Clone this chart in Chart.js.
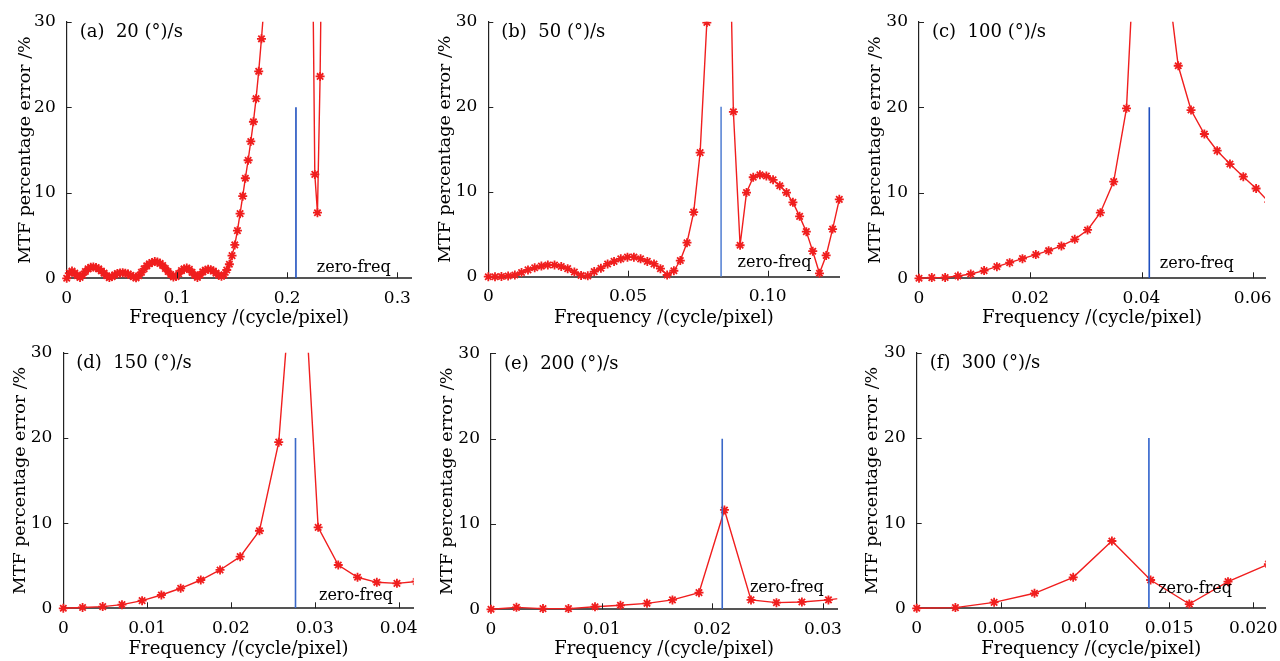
<!DOCTYPE html>
<html>
<head>
<meta charset="utf-8">
<title>MTF percentage error</title>
<script src="https://cdn.jsdelivr.net/npm/chart.js@4.4.1/dist/chart.umd.min.js"></script>
<style>
  body { margin: 0; background: #fff; width: 1280px; height: 661px; position: relative; overflow: hidden; }
  canvas { position: absolute; }
</style>
</head>
<body>
<canvas id="chartA"></canvas>
<canvas id="chartB"></canvas>
<canvas id="chartC"></canvas>
<canvas id="chartD"></canvas>
<canvas id="chartE"></canvas>
<canvas id="chartF"></canvas>
<script>
// values, frequency in cycle/pixel, error in %
// points above 30 are off the plot, they are only there so the lines leave through the top
const aFreq = [0, 0.0024, 0.0048, 0.0073, 0.0097, 0.0121, 0.0145, 0.0169, 0.0194, 0.0218,
  0.0242, 0.0266, 0.029, 0.0315, 0.0339, 0.0363, 0.0387, 0.0411, 0.0436, 0.046,
  0.0484, 0.0508, 0.0532, 0.0557, 0.0581, 0.0605, 0.0629, 0.0653, 0.0678, 0.0702,
  0.0726, 0.075, 0.0774, 0.0799, 0.0823, 0.0847, 0.0871, 0.0895, 0.092, 0.0944,
  0.0968, 0.0992, 0.1016, 0.1041, 0.1065, 0.1089, 0.1113, 0.1137, 0.1162, 0.1186,
  0.121, 0.1234, 0.1258, 0.1283, 0.1307, 0.1331, 0.1355, 0.1379, 0.1404, 0.1428,
  0.1452, 0.1476, 0.15, 0.1525, 0.1549, 0.1573, 0.1597, 0.1621, 0.1646, 0.167,
  0.1694, 0.1718, 0.1742, 0.1767, 0.1791, 0.1815, 0.1839, 0.1863, 0.1888, 0.1912,
  0.1936, 0.196, 0.1984, 0.2009, 0.2033, 0.2057, 0.2081, 0.2105, 0.213, 0.2154,
  0.2178, 0.2202, 0.2226, 0.2251, 0.2275, 0.2299, 0.2323]
const aErr = [0, 0.6, 0.85, 0.6, 0.3, 0.1, 0.4, 0.8, 1.1, 1.28,
  1.32, 1.25, 1.1, 0.85, 0.6, 0.3, 0.08, 0.2, 0.4, 0.55,
  0.63, 0.65, 0.6, 0.5, 0.35, 0.18, 0.05, 0.3, 0.7, 1.1,
  1.45, 1.7, 1.85, 1.95, 1.9, 1.75, 1.5, 1.15, 0.8, 0.45,
  0.15, 0.2, 0.55, 0.9, 1.1, 1.2, 1.05, 0.7, 0.35, 0.1,
  0.4, 0.75, 0.95, 1.05, 1.0, 0.85, 0.6, 0.35, 0.25, 0.4,
  0.97, 1.64, 2.65, 3.9, 5.57, 7.56, 9.6, 11.7, 13.8, 16.0,
  18.3, 21.0, 24.2, 28.0, 32, 40, 48, 58, 70, 85,
  105, 130, 170, 230, 320, 450, 600, 450, 320, 230,
  150, 90, 45, 12.15, 7.67, 23.6, 50]

const bFreq = [0, 0.0024, 0.0047, 0.0071, 0.0095, 0.0119, 0.0142, 0.0166, 0.019, 0.0213,
  0.0237, 0.0261, 0.0284, 0.0308, 0.0332, 0.0356, 0.0379, 0.0403, 0.0427, 0.045,
  0.0474, 0.0498, 0.0521, 0.0545, 0.0569, 0.0593, 0.0616, 0.064, 0.0664, 0.0687,
  0.0711, 0.0735, 0.0758, 0.0782, 0.0806, 0.083, 0.0853, 0.0877, 0.0901, 0.0924,
  0.0948, 0.0972, 0.0995, 0.1019, 0.1043, 0.1067, 0.109, 0.1114, 0.1138, 0.1161,
  0.1185, 0.1209, 0.1232, 0.1256]
const bErr = [0, 0, 0.02, 0.08, 0.2, 0.5, 0.8, 1.05, 1.25, 1.38,
  1.38, 1.2, 0.95, 0.55, 0.15, 0.1, 0.6, 1.0, 1.5, 1.8,
  2.1, 2.3, 2.3, 2.1, 1.8, 1.5, 0.95, 0.2, 0.7, 1.9,
  4.0, 7.6, 14.6, 29.9, 70, 200, 60, 19.4, 3.7, 9.9,
  11.7, 12.0, 11.85, 11.4, 10.7, 9.9, 8.75, 7.1, 5.3, 3.0,
  0.4, 2.5, 5.6, 9.1]

const cFreq = [0, 0.0023, 0.0047, 0.007, 0.0093, 0.0117, 0.014, 0.0163, 0.0186, 0.021,
  0.0233, 0.0256, 0.028, 0.0303, 0.0326, 0.035, 0.0373, 0.0396, 0.0419, 0.0443,
  0.0466, 0.0489, 0.0513, 0.0536, 0.0559, 0.0583, 0.0606, 0.0629]
const cErr = [0, 0.08, 0.1, 0.27, 0.5, 0.9, 1.36, 1.83, 2.3, 2.77,
  3.23, 3.78, 4.56, 5.65, 7.67, 11.3, 19.87, 50, 300, 37,
  24.85, 19.67, 16.87, 14.92, 13.36, 11.88, 10.5, 8.9]

const dFreq = [0, 0.0023, 0.0047, 0.007, 0.0094, 0.0117, 0.014, 0.0164, 0.0187, 0.0211,
  0.0234, 0.0257, 0.0281, 0.0304, 0.0328, 0.0351, 0.0374, 0.0398, 0.0421]
const dErr = [0, 0.1, 0.2, 0.43, 0.9, 1.56, 2.35, 3.32, 4.5, 6.06,
  9.1, 19.5, 50, 9.5, 5.08, 3.64, 3.05, 2.93, 3.15]

const eFreq = [0, 0.0023, 0.0047, 0.007, 0.0094, 0.0117, 0.0141, 0.0164, 0.0188, 0.0211,
  0.0235, 0.0258, 0.0281, 0.0305, 0.0328]
const eErr = [0, 0.23, 0.08, 0.08, 0.3, 0.47, 0.7, 1.1, 1.95, 11.64,
  1.1, 0.78, 0.86, 1.1, 1.5]

const fFreq = [0, 0.0023, 0.0046, 0.007, 0.0093, 0.0116, 0.0139, 0.0162, 0.0185, 0.0209]
const fErr = [0, 0.08, 0.7, 1.76, 3.64, 7.9, 3.32, 0.5, 3.13, 5.18]

// zero frequency of each rate (blue marker, drawn from 0 to 20 %)
const zeroFreqs = [0.208, 0.0833, 0.0414, 0.0277, 0.0209, 0.0138]
const zeroMarkTop = 20

const aTicks = [0, 0.1, 0.2, 0.3]
const aTickLabels = ["0", "0.1", "0.2", "0.3"]
const bTicks = [0, 0.05, 0.1]
const bTickLabels = ["0", "0.05", "0.10"]
const cTicks = [0, 0.02, 0.04, 0.06]
const cTickLabels = ["0", "0.02", "0.04", "0.06"]
const dTicks = [0, 0.01, 0.02, 0.03, 0.04]
const dTickLabels = ["0", "0.01", "0.02", "0.03", "0.04"]
const eTicks = [0, 0.01, 0.02, 0.03]
const eTickLabels = ["0", "0.01", "0.02", "0.03"]
const fTicks = [0, 0.005, 0.01, 0.015, 0.02]
const fTickLabels = ["0", "0.005", "0.010", "0.015", "0.020"]
const errTicks = [0, 10, 20, 30]

const panelLabels = ["(a)  20 (°)/s", "(b)  50 (°)/s", "(c)  100 (°)/s", "(d)  150 (°)/s", "(e)  200 (°)/s", "(f)  300 (°)/s"]

// layout: canvas box [left, top, w, h], plot area [left, top, right, bottom], page pixels
const panels = [
  { id: "chartA", freq: aFreq, err: aErr, ticks: aTicks, tickLabels: aTickLabels, xMax: 0.313,
    box: [0, 0, 420, 330], plot: [66.7, 21.7, 411.7, 278.3], note: [0.2269, 0.77], blue: "#1f4fbf" },
  { id: "chartB", freq: bFreq, err: bErr, ticks: bTicks, tickLabels: bTickLabels, xMax: 0.1256,
    box: [420, 0, 430, 330], plot: [488.3, 21.7, 839.3, 276.7], note: [0.0892, 1.18], blue: "#5a85d5" },
  { id: "chartC", freq: cFreq, err: cErr, ticks: cTicks, tickLabels: cTickLabels, xMax: 0.0622,
    box: [850, 0, 430, 330], plot: [919, 21.7, 1265, 278.3], note: [0.0433, 1.24], blue: "#1f4fbf" },
  { id: "chartD", freq: dFreq, err: dErr, ticks: dTicks, tickLabels: dTickLabels, xMax: 0.0418,
    box: [-5, 330, 425, 331], plot: [63.3, 352.7, 415, 608.3], note: [0.0305, 0.97], blue: "#3a68c8" },
  { id: "chartE", freq: eFreq, err: eErr, ticks: eTicks, tickLabels: eTickLabels, xMax: 0.0313,
    box: [422, 330, 428, 331], plot: [491, 353.3, 837.3, 609.3], note: [0.0234, 2.0], blue: "#3a68c8" },
  { id: "chartF", freq: fFreq, err: fErr, ticks: fTicks, tickLabels: fTickLabels, xMax: 0.02075,
    box: [847, 330, 433, 331], plot: [916.7, 352.7, 1268.3, 608.3], note: [0.01435, 1.76], blue: "#2f62cc" },
]

const serif = '"DejaVu Serif", "Liberation Serif", serif'
Chart.defaults.font.family = serif
Chart.defaults.color = "#000"

// inward tick marks, panel caption and the zero-freq note
const panelDecor = {
  id: "panelDecor",
  afterDraw(chart) {
    const opts = chart.options.plugins.panelDecor
    const { ctx, chartArea } = chart
    const xs = chart.scales.x
    const ys = chart.scales.y
    ctx.save()
    ctx.strokeStyle = "#222"
    ctx.lineWidth = 1
    xs.ticks.forEach((t) => {
      if (t.value === 0) return
      const px = Math.round(xs.getPixelForValue(t.value)) + 0.5
      ctx.beginPath()
      ctx.moveTo(px, chartArea.bottom)
      ctx.lineTo(px, chartArea.bottom - 6)
      ctx.stroke()
    })
    ys.ticks.forEach((t) => {
      if (t.value === 0) return
      const py = Math.round(ys.getPixelForValue(t.value)) + 0.5
      ctx.beginPath()
      ctx.moveTo(chartArea.left, py)
      ctx.lineTo(chartArea.left + 5, py)
      ctx.stroke()
    })

    ctx.fillStyle = "#000"
    ctx.font = "18px " + serif
    ctx.textBaseline = "middle"
    ctx.textAlign = "left"
    ctx.fillText(opts.label, chartArea.left + 13, chartArea.top + 11)

    ctx.font = "16px " + serif
    ctx.textBaseline = "alphabetic"
    ctx.fillText("zero-freq", xs.getPixelForValue(opts.note[0]), ys.getPixelForValue(opts.note[1]))
    ctx.restore()
  },
}

panels.forEach((p, idx) => {
  const canvas = document.getElementById(p.id)
  const [bl, bt, bw, bh] = p.box
  const [pl, pt, pr, pb] = p.plot
  canvas.width = bw
  canvas.height = bh
  canvas.style.left = bl + "px"
  canvas.style.top = bt + "px"
  canvas.style.width = bw + "px"
  canvas.style.height = bh + "px"

  const yWidth = pl - bl
  const xHeight = bt + bh - pb
  const lastFreq = p.freq[p.freq.length - 1]

  new Chart(canvas, {
    type: "line",
    data: {
      datasets: [
        {
          label: "zero-freq",
          data: [{ x: zeroFreqs[idx], y: 0 }, { x: zeroFreqs[idx], y: zeroMarkTop }],
          borderColor: p.blue,
          borderWidth: 1.6,
          pointRadius: 0,
        },
        {
          label: "MTF error",
          data: p.freq.map((f, i) => ({ x: f, y: p.err[i] })),
          borderColor: "#f01e1e",
          borderWidth: 1.4,
          pointStyle: "star",
          pointRadius: 4.5,
          pointBorderColor: "#f01e1e",
          pointBorderWidth: 1.8,
          tension: 0,
          clip: { left: 10, bottom: 10, top: 0, right: lastFreq > p.xMax ? 0 : 8 },
        },
      ],
    },
    options: {
      responsive: false,
      animation: false,
      devicePixelRatio: 1,
      layout: { padding: { left: 0, bottom: 0, top: pt - bt, right: bl + bw - pr } },
      plugins: {
        legend: { display: false },
        tooltip: { enabled: false },
        panelDecor: { label: panelLabels[idx], note: p.note },
      },
      scales: {
        x: {
          type: "linear",
          min: 0,
          max: p.xMax,
          grid: { display: false },
          border: { display: true, color: "#555", width: 2 },
          afterBuildTicks: (s) => { s.ticks = p.ticks.map((v) => ({ value: v })) },
          afterFit: (s) => { s.height = xHeight },
          ticks: {
            autoSkip: false,
            maxRotation: 0,
            padding: 2,
            font: { size: 17 },
            callback: (v, i) => p.tickLabels[i],
          },
          title: {
            display: true,
            text: "Frequency /(cycle/pixel)",
            font: { size: 18 },
            padding: { top: 0, bottom: 0.5 },
          },
        },
        y: {
          min: 0,
          max: 30,
          grid: { display: false },
          border: { display: true, color: "#222", width: 1.2 },
          afterBuildTicks: (s) => { s.ticks = errTicks.map((v) => ({ value: v })) },
          afterFit: (s) => { s.width = yWidth },
          ticks: { padding: 3, font: { size: 17 } },
          title: {
            display: true,
            text: "MTF percentage error /%",
            font: { size: 17.5 },
            padding: { top: 15, bottom: 0 },
          },
        },
      },
    },
    plugins: [panelDecor],
  })
})
</script>
</body>
</html>
